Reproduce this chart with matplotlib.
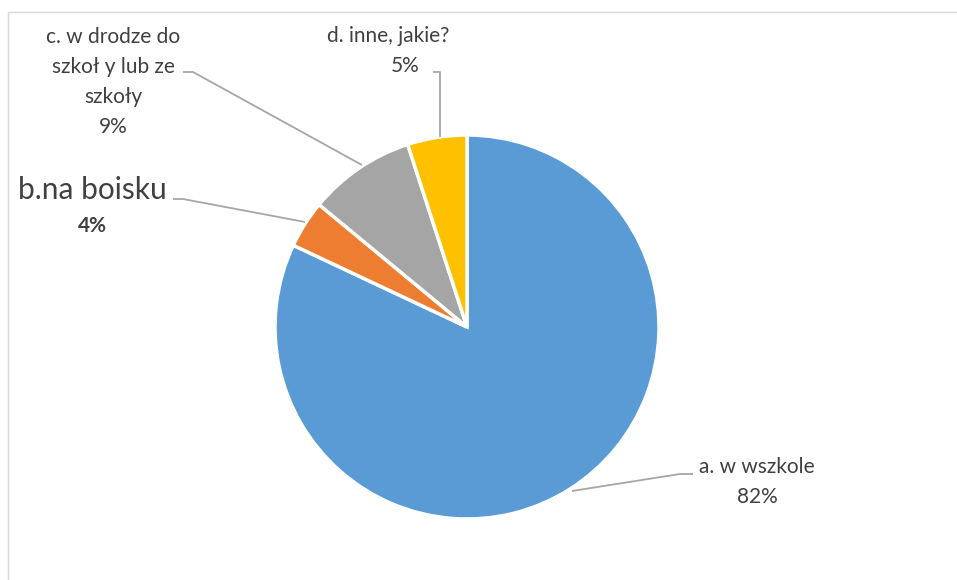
import matplotlib.pyplot as plt

# data
labels = ['a. w wszkole', 'b.na boisku', 'c. w drodze do\nszkoł y lub ze\nszkoły', 'd. inne, jakie?']
values = [82, 4, 9, 5]
colors = ['#5B9BD5', '#ED7D31', '#A5A5A5', '#FFC000']

W, H = 957, 580
plt.rcParams['font.family'] = ['Lato', 'DejaVu Sans']

fig = plt.figure(figsize=(W / 100, H / 100), dpi=100)
ax = fig.add_axes([0, 0, 1, 1])
ax.set_xlim(0, W)
ax.set_ylim(0, H)
ax.set_aspect('equal')
ax.axis('off')

# pixel -> data (y flipped)
def P(x, y):
    return x, H - y

wedges, _ = ax.pie(values, colors=colors, startangle=90, counterclock=False,
                   center=P(467, 327), radius=192,
                   wedgeprops=dict(edgecolor='white', linewidth=2.5))
ax.set_xlim(0, W)
ax.set_ylim(0, H)

txt = '#404040'
lc = '#A6A6A6'

# leader lines
leaders = [
    [(572, 491), (680, 474), (693, 474)],
    [(305, 222), (183, 199), (173, 199)],
    [(362, 165), (193, 72), (183, 72)],
    [(440, 137), (440, 72), (433, 72)],
]
for pts in leaders:
    xs = [p[0] for p in pts]
    ys = [H - p[1] for p in pts]
    ax.plot(xs, ys, color=lc, lw=1.3, solid_capstyle='butt')

pct = [f'{v}%' for v in values]
fs = 15

# a
ax.text(*P(757, 467), labels[0], ha='center', va='center', fontsize=fs, color=txt)
ax.text(*P(757, 497), pct[0], ha='center', va='center', fontsize=fs, color=txt)
# b
ax.text(*P(92, 190), labels[1], ha='center', va='center', fontsize=21.5, color=txt)
ax.text(*P(92, 226), pct[1], ha='center', va='center', fontsize=fs, color=txt, fontweight='bold')
# c
for i, line in enumerate(labels[2].split('\n') + [pct[2]]):
    ax.text(*P(113, 37 + 30 * i), line, ha='center', va='center', fontsize=fs, color=txt)
# d
ax.text(*P(388, 36), labels[3], ha='center', va='center', fontsize=fs, color=txt)
ax.text(*P(405, 66), pct[3], ha='center', va='center', fontsize=fs, color=txt)

# chart frame
ax.plot([8, 8, W], [0, H - 11.5, H - 11.5], color='#D9D9D9', lw=1.0)

fig.savefig('out.png', dpi=100, facecolor='white')
